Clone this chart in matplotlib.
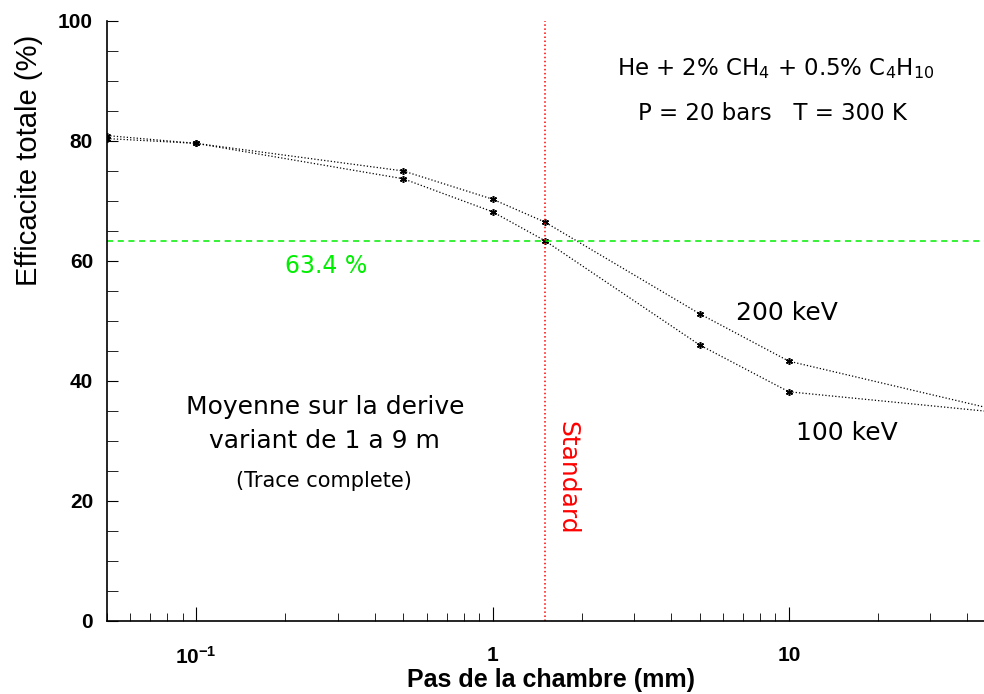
import matplotlib
matplotlib.use("Agg")
import matplotlib.pyplot as plt
from matplotlib.ticker import FixedLocator, MultipleLocator, NullFormatter

plt.rcParams['mathtext.default'] = 'regular'

# pas de la chambre (mm)
pas = [0.05, 0.1, 0.5, 1.0, 1.5, 5.0, 10.0, 50.0]
# efficacite totale (%)
eff_200 = [80.9, 79.6, 75.0, 70.3, 66.5, 51.2, 43.3, 35.2]
eff_100 = [80.4, 79.6, 73.7, 68.2, 63.4, 46.0, 38.2, 34.8]

seuil = 63.4
pas_standard = 1.5

xticks = [0.1, 1, 10]
xlabels = ["10$^{-1}$", "1", "10"]
yticks = [0, 20, 40, 60, 80, 100]

fig = plt.figure(figsize=(9.84, 6.94), dpi=100)
ax = fig.add_axes([0.1087, 0.1052, 0.9035, 0.8646])

ast = (6, 2, 0)
ax.plot(pas, eff_200, color='black', ls=':', lw=0.9, marker=ast, ms=5, mew=1.1)
ax.plot(pas, eff_100, color='black', ls=':', lw=0.9, marker=ast, ms=5, mew=1.1)

ax.axhline(seuil, color='#00ee00', ls='--', lw=1.1, dashes=(4, 3))
ax.axvline(pas_standard, color='red', ls=':', lw=1.1)

ax.set_xscale('log')
ax.set_xlim(0.05, 50)
ax.set_ylim(0, 100)

ax.spines['top'].set_visible(False)
ax.spines['right'].set_visible(False)
ax.spines['left'].set_linewidth(1.2)
ax.spines['bottom'].set_linewidth(1.2)

ax.xaxis.set_major_locator(FixedLocator(xticks))
ax.set_xticklabels(xlabels)
ax.xaxis.set_minor_formatter(NullFormatter())
ax.set_yticks(yticks)
ax.yaxis.set_minor_locator(MultipleLocator(5))

ax.tick_params(which='both', direction='in')
ax.tick_params(axis='x', which='major', length=10, pad=18)
ax.tick_params(axis='x', which='minor', length=6)
ax.tick_params(axis='y', which='major', length=8, pad=10)
ax.tick_params(axis='y', which='minor', length=8)
for lab in ax.get_xticklabels() + ax.get_yticklabels():
    lab.set_family('Liberation Sans')
    lab.set_fontweight('bold')
    lab.set_fontsize(15)

ax.set_xlabel("Pas de la chambre (mm)", family=['Liberation Sans Narrow', 'Liberation Sans'],
              fontweight='bold', fontsize=18)
ax.xaxis.set_label_coords(0.5, -0.078)
ax.set_ylabel("Efficacite totale (%)", family='Liberation Sans', fontsize=21)
ax.yaxis.set_label_coords(-0.072, 0.768)

txt = dict(family='DejaVu Sans', color='black')
ax.text(0.2, 59.2, "63.4 %", color='#00ee00', fontsize=17, va='center',
        family='DejaVu Sans')
ax.text(6.62, 51.3, "200 keV", fontsize=18, va='center', **txt)
ax.text(10.6, 31.3, "100 keV", fontsize=18, va='center', **txt)
ax.text(0.273, 35.7, "Moyenne sur la derive", fontsize=18, ha='center', va='center', **txt)
ax.text(0.27, 30.0, "variant de 1 a 9 m", fontsize=18, ha='center', va='center', **txt)
ax.text(0.27, 23.3, "(Trace complete)", fontsize=15, ha='center', va='center', **txt)
ax.text(1.79, 23.8, "Standard", color='red', fontsize=18, rotation=-90,
        ha='center', va='center', family='DejaVu Sans')
ax.text(9.04, 92.0, "He + 2% CH$_4$ + 0.5% C$_4$H$_{10}$", fontsize=16.5,
        ha='center', va='center', **txt)
ax.text(8.8, 84.5, "P = 20 bars   T = 300 K", fontsize=16.5, ha='center', va='center', **txt)

fig.savefig("out.png", dpi=100)
